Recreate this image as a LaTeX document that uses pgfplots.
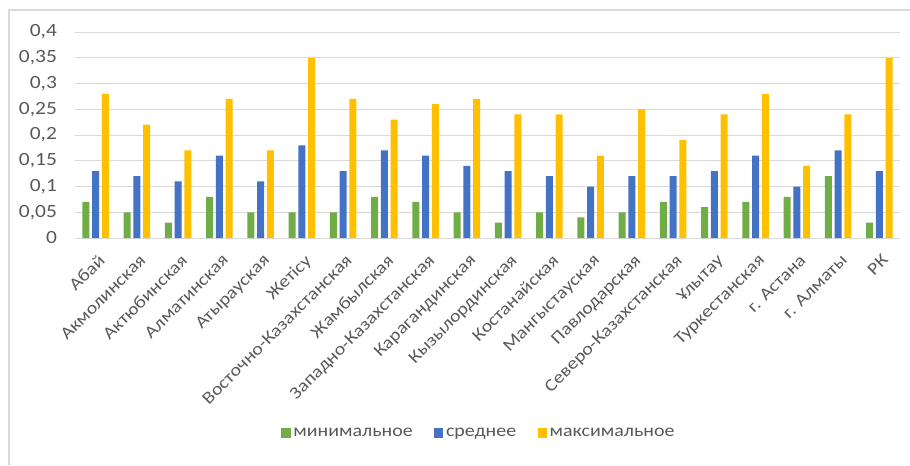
\documentclass[border=0pt]{standalone}
\usepackage{pgfplots}
\pgfplotsset{compat=1.18}
\usepackage{fontspec}
\setmainfont{Carlito}[FakeStretch=1.15]
\definecolor{cgreen}{HTML}{70AD47}
\definecolor{cblue}{HTML}{4472C4}
\definecolor{cgold}{HTML}{FFC000}
\definecolor{cgrid}{HTML}{D9D9D9}
\definecolor{ctext}{HTML}{595959}
\begin{document}
\begin{tikzpicture}[x=1pt,y=1pt]
\path[use as bounding box] (0,0) rectangle (682.5,348.75);
\draw[cgrid, line width=1pt] (6.75,0) -- (6.75,341.25) -- (682.5,341.25);
\begin{axis}[
  at={(56.25pt,170.25pt)}, anchor=south west,
  scale only axis, width=618.75pt, height=154.5pt,
  ybar, bar width=5.25pt,
  /pgf/bar shift auto/.default=7pt,
  ymin=0, ymax=0.4,
  xmin=-0.5, xmax=19.5,
  ytick={0,0.05,0.1,0.15,0.2,0.25,0.3,0.35,0.4},
  tick label style={font=\fontsize{13}{15}\selectfont, color=ctext},
  yticklabel style={font=\fontsize{14}{16}\selectfont, xshift=-10pt, /pgf/number format/.cd, use comma, fixed, precision=2},
  /pgf/number format/assume math mode=true,
  xtick={0,...,19},
  xticklabels={Абай,Акмолинская,Актюбинская,Алматинская,Атырауская,Жетісу,Восточно-Казахстанская,Жамбылская,Западно-Казахстанская,Карагандинская,Кызылординская,Костанайская,Мангыстауская,Павлодарская,Северо-Казахстанская,Ұлытау,Туркестанская,г. Астана,г. Алматы,РК},
  xticklabel style={rotate=45, anchor=north east, inner sep=1pt, xshift=-6pt, yshift=-8pt},
  ymajorgrids, grid style={cgrid, line width=0.75pt},
  axis x line*=bottom, axis y line*=left,
  x axis line style={cgrid, line width=0.75pt, -},
  y axis line style={draw=none},
  major tick length=0pt,
  legend style={at={(0.49,-0.947)}, anchor=center, draw=none, legend columns=3,
    font=\fontsize{13}{15}\selectfont, text=ctext,
    /tikz/every even column/.append style={column sep=14pt}},
  legend image code/.code={\fill[#1, draw=none] (0pt,-3.5pt) rectangle (7pt,3.5pt);},
]
\addplot[fill=cgreen, draw=none] coordinates {
(0,0.07)(1,0.05)(2,0.03)(3,0.08)(4,0.05)(5,0.05)(6,0.05)(7,0.08)(8,0.07)(9,0.05)
(10,0.03)(11,0.05)(12,0.04)(13,0.05)(14,0.07)(15,0.06)(16,0.07)(17,0.08)(18,0.12)(19,0.03)};
\addplot[fill=cblue, draw=none] coordinates {
(0,0.13)(1,0.12)(2,0.11)(3,0.16)(4,0.11)(5,0.18)(6,0.13)(7,0.17)(8,0.16)(9,0.14)
(10,0.13)(11,0.12)(12,0.10)(13,0.12)(14,0.12)(15,0.13)(16,0.16)(17,0.10)(18,0.17)(19,0.13)};
\addplot[fill=cgold, draw=none] coordinates {
(0,0.28)(1,0.22)(2,0.17)(3,0.27)(4,0.17)(5,0.35)(6,0.27)(7,0.23)(8,0.26)(9,0.27)
(10,0.24)(11,0.24)(12,0.16)(13,0.25)(14,0.19)(15,0.24)(16,0.28)(17,0.14)(18,0.24)(19,0.35)};
\legend{минимальное,среднее,максимальное}
\end{axis}
\end{tikzpicture}
\end{document}
